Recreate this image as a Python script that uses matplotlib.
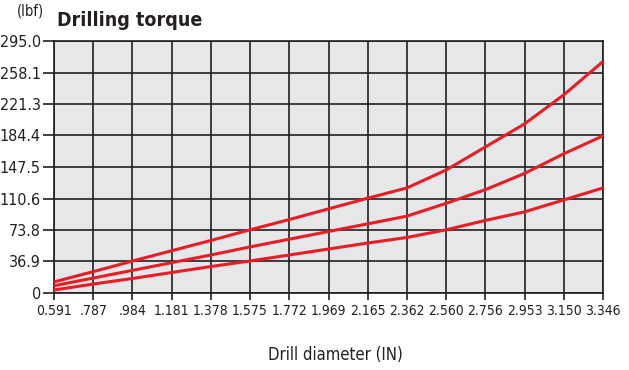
import numpy as np
import matplotlib
matplotlib.use("Agg")
import matplotlib.pyplot as plt

plt.rcParams['font.family'] = ['DejaVu Sans']
plt.rcParams['font.stretch'] = 'condensed'

# drill diameters (IN), evenly spaced on the chart
diam_labels = ['0.591', '.787', '.984', '1.181', '1.378', '1.575', '1.772', '1.969',
               '2.165', '2.362', '2.560', '2.756', '2.953', '3.150', '3.346']
torque_ticks = [0, 36.9, 73.8, 110.6, 147.5, 184.4, 221.3, 258.1, 295.0]
torque_tick_labels = ['0', '36.9', '73.8', '110.6', '147.5', '184.4', '221.3', '258.1', '295.0']

# torque (lbf) for three curves
torque_high = [13, 25, 37.4, 49.5, 61.5, 74, 86, 98.5, 111, 123, 144, 171, 198, 232, 271]
torque_mid = [8.5, 17.5, 26.5, 35.5, 44.5, 54, 63, 72, 81, 90, 105, 121, 140, 163, 184]
torque_low = [3.5, 10.5, 17, 24, 31, 37.5, 44.5, 51.5, 58.5, 65, 74, 85, 95, 109, 123]

red = '#ec1c24'
ink = '#231f20'
x = np.arange(len(diam_labels))

fig = plt.figure(figsize=(6.29, 3.70), dpi=100)
ax = fig.add_axes([54/629, 77/370, 549/629, 252/370])
ax.set_facecolor('#e6e7e8')

for ys in (torque_high, torque_mid, torque_low):
    ax.plot(x, ys, color=red, lw=2.2, solid_capstyle='butt', zorder=3)

ax.set_xlim(0, len(diam_labels) - 1)
ax.set_ylim(0, 295)
ax.set_xticks(x)
ax.set_xticklabels(diam_labels)
ax.set_yticks(torque_ticks)
ax.set_yticklabels(torque_tick_labels)

ax.grid(True, color=ink, lw=1.2, zorder=1)
ax.set_axisbelow(True)
for s in ax.spines.values():
    s.set_color(ink)
    s.set_linewidth(1.2)

ax.tick_params(axis='x', direction='out', length=5, width=1.2, color=ink,
               labelsize=10, pad=3, labelcolor=ink)
ax.tick_params(axis='y', direction='out', length=8, width=1.2, color=ink,
               labelsize=11.5, pad=1.5, labelcolor=ink)

fig.text(57/629, 1 - 21/370, 'Drilling torque', fontsize=14, fontweight='bold',
         color=ink, va='center', ha='left')
fig.text(17/629, 1 - 11/370, '(lbf)', fontsize=10.5, color=ink, va='center', ha='left')
fig.text(335/629, 1 - 355/370, 'Drill diameter (IN)', fontsize=12, color=ink,
         va='center', ha='center')

fig.savefig('out.png', dpi=100)
